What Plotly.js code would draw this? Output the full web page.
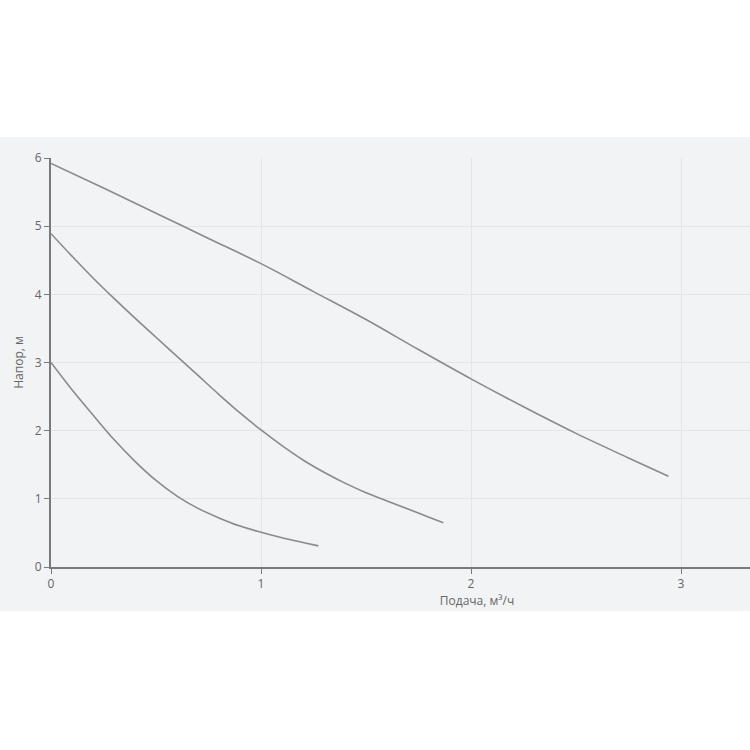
<!DOCTYPE html>
<html>
<head>
<meta charset="utf-8">
<script src="https://cdn.plot.ly/plotly-3.0.1.min.js"></script>
<style>
html, body { margin: 0; padding: 0; background: #ffffff; width: 750px; height: 750px; overflow: hidden; }
#wrap { position: absolute; left: 0; top: 137px; width: 750px; height: 474px; overflow: hidden; }
#chart { position: absolute; left: 0; top: 0; width: 903px; height: 474px; }
</style>
</head>
<body>
<div id="wrap"><div id="chart"></div></div>
<script>
const curve1X = [0, 0.25, 0.5, 0.75, 1.0, 1.25, 1.5, 1.75, 2.0, 2.25, 2.5, 2.75, 2.94];
const curve1Y = [5.92, 5.56, 5.19, 4.82, 4.45, 4.04, 3.63, 3.19, 2.76, 2.35, 1.96, 1.6, 1.33];
const curve2X = [0, 0.1, 0.2, 0.3, 0.4, 0.5, 0.6, 0.7, 0.8, 0.9, 1.0, 1.1, 1.2, 1.3, 1.4, 1.5, 1.6, 1.7, 1.8, 1.868];
const curve2Y = [4.89, 4.56, 4.24, 3.94, 3.65, 3.37, 3.09, 2.81, 2.53, 2.26, 2.01, 1.78, 1.57, 1.39, 1.23, 1.09, 0.97, 0.85, 0.73, 0.65];
const curve3X = [0, 0.1, 0.2, 0.3, 0.4, 0.5, 0.6, 0.7, 0.8, 0.9, 1.0, 1.1, 1.2, 1.273];
const curve3Y = [3.0, 2.6, 2.23, 1.87, 1.55, 1.27, 1.04, 0.86, 0.72, 0.6, 0.51, 0.43, 0.36, 0.31];
const xTickVals = [0, 1, 2, 3];
const xTitle = 'Подача, м³/ч';
const yTitle = 'Напор, м';

const lineStyle = { color: '#8a8a8a', width: 1.6, shape: 'spline', smoothing: 1 };
const traces = [
  { x: curve1X, y: curve1Y, mode: 'lines', line: lineStyle, hoverinfo: 'none' },
  { x: curve2X, y: curve2Y, mode: 'lines', line: lineStyle, hoverinfo: 'none' },
  { x: curve3X, y: curve3Y, mode: 'lines', line: lineStyle, hoverinfo: 'none' }
];

const axisCommon = {
  showline: true, linecolor: '#7a7a7a', linewidth: 2,
  ticks: 'outside', ticklen: 5, tickcolor: '#7a7a7a', tickwidth: 1,
  gridcolor: '#e3e5eb', gridwidth: 1, zeroline: false,
  tickfont: { family: 'Open Sans, sans-serif', size: 12, color: '#666666' },
  automargin: false
};

const layout = {
  width: 903, height: 474,
  margin: { l: 51, r: 0, t: 21, b: 44 },
  paper_bgcolor: '#f2f3f5', plot_bgcolor: '#f2f3f5',
  showlegend: false,
  font: { family: 'Open Sans, sans-serif', color: '#666666' },
  xaxis: Object.assign({}, axisCommon, {
    range: [0, 4.057], tickmode: 'array', tickvals: xTickVals,
    title: { text: xTitle, font: { size: 12, color: '#666666' }, standoff: 0 }
  }),
  yaxis: Object.assign({}, axisCommon, {
    range: [0, 6], dtick: 1, tick0: 0,
    title: { text: yTitle, font: { size: 12, color: '#666666' }, standoff: 9 }
  })
};

Plotly.newPlot('chart', traces, layout, { displayModeBar: false, staticPlot: true });
</script>
</body>
</html>
